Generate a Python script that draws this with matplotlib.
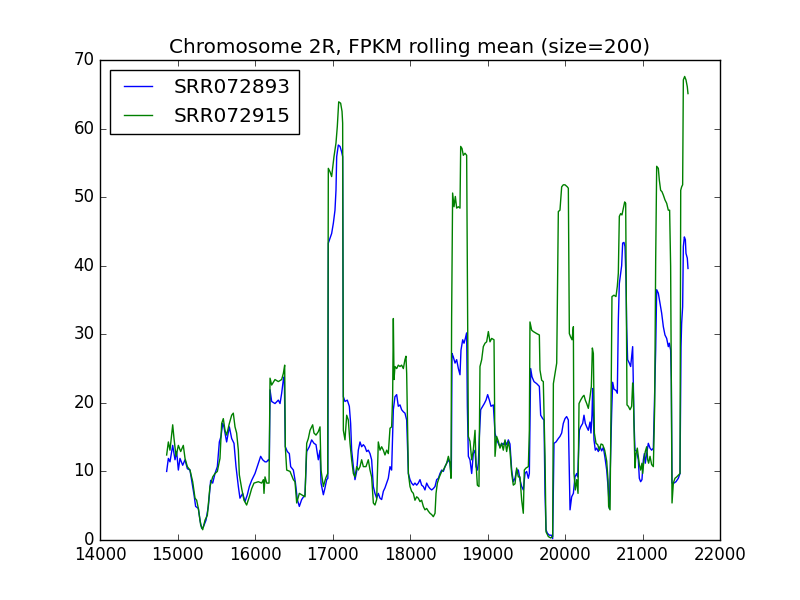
import matplotlib
matplotlib.use("Agg")
import matplotlib.pyplot as plt

# values (gene index vs rolling mean FPKM)
blue_x = [14860, 14882, 14903, 14938, 14968, 14989, 15011, 15032, 15067, 15097,
          15127, 15161, 15183, 15213, 15234, 15269, 15290, 15312, 15333, 15368,
          15398, 15428, 15454, 15484, 15514, 15540, 15561, 15583, 15600, 15613,
          15634, 15669, 15699, 15729, 15755, 15785, 15806, 15841, 15871, 15901,
          15927, 15957, 16000, 16043, 16073, 16099, 16129, 16150, 16172, 16185,
          16194, 16215, 16258, 16301, 16323, 16344, 16366, 16378, 16391, 16417,
          16443, 16460, 16495, 16520, 16546, 16572, 16602, 16645, 16667, 16701,
          16731, 16761, 16787, 16817, 16839, 16852, 16882, 16903, 16925, 16940,
          16946, 16968, 16989, 17011, 17032, 17045, 17054, 17075, 17097, 17118,
          17131, 17140, 17161, 17191, 17217, 17234, 17247, 17269, 17290, 17312,
          17333, 17355, 17376, 17398, 17419, 17441, 17462, 17484, 17505, 17527,
          17548, 17570, 17591, 17613, 17634, 17656, 17677, 17699, 17720, 17742,
          17763, 17785, 17806, 17828, 17849, 17871, 17892, 17914, 17935, 17957,
          17979, 18000, 18021, 18043, 18064, 18086, 18107, 18129, 18150, 18172,
          18193, 18215, 18237, 18258, 18280, 18301, 18323, 18344, 18366, 18387,
          18409, 18430, 18452, 18473, 18495, 18516, 18533, 18542, 18559, 18581,
          18602, 18624, 18645, 18658, 18680, 18697, 18714, 18731, 18740, 18753,
          18774, 18796, 18817, 18839, 18852, 18869, 18882, 18895, 18912, 18938,
          18959, 18981, 19002, 19024, 19045, 19075, 19097, 19118, 19140, 19161,
          19183, 19204, 19226, 19247, 19269, 19290, 19312, 19333, 19355, 19376,
          19398, 19419, 19441, 19462, 19484, 19505, 19527, 19540, 19557, 19574,
          19600, 19635, 19669, 19686, 19712, 19729, 19742, 19755, 19772, 19798,
          19824, 19841, 19858, 19884, 19914, 19935, 19957, 19978, 20000, 20021,
          20043, 20056, 20065, 20086, 20108, 20129, 20151, 20164, 20172, 20185,
          20202, 20228, 20245, 20262, 20280, 20301, 20323, 20335, 20348, 20357,
          20374, 20391, 20409, 20430, 20452, 20473, 20495, 20516, 20538, 20559,
          20572, 20589, 20602, 20615, 20632, 20658, 20675, 20688, 20701, 20718,
          20731, 20744, 20761, 20774, 20787, 20796, 20808, 20830, 20847, 20864,
          20873, 20882, 20890, 20903, 20925, 20946, 20959, 20976, 20993, 21011,
          21024, 21036, 21054, 21075, 21097, 21118, 21140, 21153, 21170, 21183,
          21204, 21226, 21247, 21269, 21290, 21312, 21333, 21346, 21363, 21372,
          21381, 21406, 21432, 21462, 21484, 21497, 21505, 21518, 21527, 21540,
          21553, 21561, 21578, 21587]
blue_y = [10.0, 11.9, 11.4, 13.8, 11.7, 12.9, 10.2, 11.9, 10.9, 11.7,
          10.4, 10.2, 8.7, 6.6, 4.9, 4.6, 2.9, 1.7, 1.9, 2.9,
          4.9, 8.7, 8.3, 9.7, 10.7, 14.3, 15.1, 17.0, 16.5, 15.6,
          14.3, 16.5, 14.8, 14.1, 10.7, 7.8, 6.1, 6.8, 5.6, 6.6,
          7.8, 8.7, 9.7, 11.2, 12.2, 11.7, 11.4, 11.4, 11.7, 11.5,
          21.9, 20.2, 19.9, 20.4, 19.9, 21.4, 23.4, 23.8, 13.6, 12.9,
          12.6, 10.7, 10.2, 8.5, 5.9, 4.9, 5.9, 6.6, 12.9, 13.6,
          14.6, 14.1, 13.9, 11.7, 13.1, 8.3, 6.6, 7.6, 8.8, 9.0,
          43.3, 44.0, 44.7, 46.2, 48.1, 51.0, 55.9, 57.6, 57.4, 56.6,
          55.9, 20.9, 20.2, 20.4, 19.5, 17.0, 13.1, 10.7, 8.8, 10.0,
          13.1, 14.3, 13.6, 13.9, 13.6, 12.9, 13.1, 12.6, 11.7, 7.8,
          6.8, 6.1, 6.8, 6.1, 5.9, 7.1, 7.6, 8.3, 9.0, 10.7,
          10.2, 19.0, 20.9, 21.2, 19.5, 19.7, 19.0, 18.7, 18.5, 17.5,
          9.7, 8.8, 8.3, 8.0, 8.3, 8.0, 8.3, 8.8, 8.0, 7.8,
          7.3, 8.3, 7.8, 7.5, 7.3, 7.5, 7.8, 8.8, 9.0, 9.7,
          10.2, 10.0, 10.7, 11.2, 11.7, 11.2, 9.2, 27.2, 26.7, 25.8,
          26.3, 25.0, 24.1, 27.7, 29.2, 28.7, 29.4, 30.2, 19.5, 12.2,
          11.7, 9.7, 12.6, 13.1, 10.7, 10.2, 11.2, 15.1, 19.0, 19.5,
          19.9, 20.4, 21.2, 20.4, 19.5, 19.7, 15.6, 14.6, 14.1, 13.6,
          14.1, 13.9, 14.4, 13.9, 14.6, 14.0, 10.2, 8.5, 9.0, 10.2,
          10.2, 8.8, 7.8, 7.3, 9.7, 10.0, 9.0, 9.7, 25.0, 23.8,
          23.1, 22.8, 22.4, 18.2, 17.7, 17.5, 6.8, 1.5, 1.0, 0.7,
          0.7, 0.2, 14.1, 14.3, 14.8, 15.1, 15.6, 17.0, 17.7, 18.0,
          17.5, 9.7, 4.4, 6.3, 6.8, 9.2, 9.7, 9.2, 11.7, 16.0,
          16.5, 17.0, 18.2, 17.0, 16.5, 16.0, 17.2, 15.6, 18.2, 22.1,
          14.6, 13.1, 13.4, 12.9, 13.6, 13.0, 13.5, 12.0, 10.2, 7.2,
          4.6, 12.2, 18.5, 23.0, 22.0, 21.8, 21.4, 32.0, 37.4, 38.9,
          40.0, 43.3, 43.4, 42.8, 38.0, 31.0, 26.3, 25.8, 25.3, 27.2,
          28.2, 22.9, 17.5, 13.1, 12.9, 11.7, 9.0, 8.5, 8.8, 11.7,
          12.6, 11.2, 12.6, 14.1, 13.4, 13.1, 13.4, 19.5, 27.7, 36.5,
          36.0, 34.5, 33.1, 31.1, 29.9, 29.4, 28.2, 28.7, 27.7, 23.3,
          8.3, 8.3, 8.5, 9.0, 9.7, 28.2, 31.6, 34.0, 42.8, 44.2,
          43.8, 41.8, 41.1, 39.6]

green_x = [14860, 14882, 14903, 14938, 14955, 14981, 15011, 15041, 15075, 15097,
           15127, 15161, 15196, 15226, 15247, 15269, 15299, 15325, 15355, 15385,
           15419, 15454, 15484, 15514, 15548, 15570, 15591, 15613, 15634, 15669,
           15699, 15720, 15742, 15763, 15785, 15798, 15828, 15858, 15892, 15927,
           15957, 15987, 16043, 16086, 16108, 16116, 16129, 16151, 16181, 16194,
           16215, 16258, 16301, 16344, 16366, 16383, 16391, 16409, 16452, 16495,
           16516, 16538, 16572, 16602, 16645, 16667, 16688, 16710, 16744, 16761,
           16787, 16817, 16839, 16852, 16882, 16912, 16938, 16946, 16968, 16989,
           17002, 17019, 17045, 17062, 17080, 17105, 17123, 17131, 17140, 17161,
           17183, 17204, 17226, 17247, 17269, 17290, 17312, 17333, 17355, 17376,
           17398, 17432, 17462, 17484, 17505, 17527, 17548, 17570, 17591, 17613,
           17634, 17656, 17677, 17699, 17720, 17742, 17763, 17776, 17785, 17794,
           17806, 17828, 17849, 17871, 17892, 17914, 17935, 17948, 17957, 17979,
           18000, 18021, 18043, 18064, 18086, 18107, 18129, 18150, 18172, 18193,
           18215, 18237, 18258, 18280, 18301, 18323, 18336, 18353, 18379, 18409,
           18430, 18452, 18473, 18495, 18516, 18529, 18537, 18550, 18568, 18585,
           18602, 18624, 18645, 18654, 18671, 18688, 18710, 18731, 18744, 18753,
           18774, 18796, 18817, 18839, 18852, 18869, 18890, 18903, 18925, 18946,
           18968, 18989, 19011, 19032, 19054, 19084, 19097, 19118, 19140, 19161,
           19183, 19204, 19226, 19247, 19269, 19290, 19312, 19333, 19355, 19376,
           19398, 19419, 19441, 19462, 19475, 19497, 19527, 19540, 19548, 19570,
           19591, 19635, 19669, 19677, 19699, 19720, 19742, 19755, 19785, 19815,
           19841, 19850, 19871, 19893, 19914, 19935, 19957, 19978, 20000, 20030,
           20043, 20056, 20073, 20091, 20108, 20116, 20133, 20151, 20168, 20181,
           20202, 20228, 20245, 20262, 20280, 20301, 20323, 20340, 20353, 20366,
           20379, 20400, 20422, 20443, 20465, 20486, 20512, 20538, 20555, 20563,
           20581, 20593, 20606, 20632, 20658, 20675, 20688, 20701, 20718, 20735,
           20753, 20770, 20783, 20791, 20800, 20817, 20839, 20860, 20873, 20882,
           20895, 20903, 20916, 20933, 20946, 20959, 20976, 20993, 21002, 21019,
           21036, 21054, 21067, 21079, 21097, 21118, 21140, 21157, 21170, 21183,
           21204, 21217, 21234, 21251, 21269, 21290, 21312, 21333, 21350, 21363,
           21372, 21381, 21398, 21419, 21441, 21467, 21484, 21493, 21505, 21518,
           21527, 21544, 21561, 21578, 21587]
green_y = [12.4, 14.3, 13.1, 16.8, 14.8, 12.2, 13.8, 12.9, 13.8, 11.9,
           10.7, 10.2, 8.5, 6.1, 5.8, 4.6, 2.2, 1.5, 2.9, 3.6,
           7.8, 9.2, 9.7, 10.0, 11.9, 17.0, 17.7, 16.0, 15.3, 17.0,
           18.2, 18.5, 16.5, 15.6, 13.1, 9.5, 7.5, 5.8, 5.1, 6.3,
           7.5, 8.3, 8.5, 8.3, 8.8, 6.8, 9.2, 8.3, 8.3, 23.6,
           22.6, 23.4, 23.1, 23.4, 24.3, 25.5, 13.6, 10.2, 10.0, 8.8,
           8.5, 5.4, 6.8, 6.6, 6.3, 14.1, 14.8, 16.0, 16.8, 15.6,
           15.3, 15.8, 16.5, 10.2, 7.8, 9.0, 9.7, 54.2, 53.7, 53.0,
           54.2, 55.9, 57.9, 60.3, 63.9, 63.7, 62.5, 60.8, 16.0, 14.6,
           18.2, 17.5, 14.1, 11.7, 9.7, 9.2, 10.7, 10.2, 10.7, 11.7,
           10.7, 10.7, 11.7, 10.2, 9.2, 5.4, 5.1, 5.9, 14.3, 13.1,
           13.6, 13.1, 12.4, 13.1, 12.6, 16.3, 16.5, 20.9, 32.3, 23.4,
           25.3, 25.0, 25.5, 25.3, 25.5, 25.0, 26.3, 26.8, 24.3, 9.7,
           7.8, 7.1, 6.8, 5.8, 6.3, 6.1, 5.6, 5.8, 4.9, 4.4,
           4.6, 4.2, 3.9, 3.7, 3.4, 3.9, 6.8, 8.3, 9.2, 10.0,
           10.2, 10.7, 11.2, 12.2, 11.2, 9.0, 32.3, 50.6, 48.6, 50.1,
           48.4, 48.6, 48.4, 57.4, 57.1, 56.1, 56.4, 56.1, 32.1, 15.1,
           14.4, 11.7, 13.1, 16.0, 11.2, 8.0, 7.8, 25.3, 26.3, 28.2,
           28.7, 28.9, 30.4, 28.9, 29.4, 29.2, 12.2, 15.1, 14.4, 13.4,
           14.1, 13.1, 14.6, 12.9, 14.4, 13.0, 9.7, 8.0, 8.2, 10.5,
           9.2, 9.2, 5.8, 3.9, 10.2, 10.5, 10.7, 16.0, 31.8, 30.6,
           30.4, 30.1, 29.9, 24.8, 23.3, 23.1, 12.2, 1.2, 0.5, 0.3,
           0.5, 22.8, 24.3, 25.8, 47.9, 48.1, 51.5, 51.8, 51.8, 51.5,
           51.3, 30.1, 29.6, 29.2, 31.1, 9.7, 7.3, 8.8, 6.8, 19.9,
           20.4, 20.9, 21.1, 20.4, 19.9, 19.2, 20.9, 22.4, 28.0, 27.2,
           15.6, 14.1, 13.9, 13.1, 14.0, 13.9, 13.1, 11.5, 8.8, 4.9,
           4.4, 18.0, 35.5, 35.7, 35.5, 37.0, 38.9, 47.2, 47.6, 47.4,
           48.4, 49.3, 49.1, 36.0, 19.7, 19.5, 19.0, 19.5, 22.9, 21.4,
           14.1, 10.5, 12.6, 13.4, 12.2, 11.0, 10.2, 11.2, 9.7, 11.7,
           12.9, 13.6, 11.7, 11.2, 12.2, 11.0, 10.7, 19.5, 40.8, 54.5,
           54.2, 52.5, 51.0, 50.8, 50.3, 49.6, 49.1, 48.1, 48.1, 39.9,
           21.4, 5.4, 8.3, 9.0, 9.2, 9.5, 9.7, 51.0, 51.5, 51.8,
           67.1, 67.6, 67.1, 66.1, 65.1]

plt.style.use("classic")
fig, ax = plt.subplots(figsize=(8, 6), dpi=100)

ax.plot(blue_x, blue_y, color="b", label="SRR072893")
ax.plot(green_x, green_y, color="g", label="SRR072915")

ax.set_xlim(14000, 22000)
ax.set_ylim(0, 70)
ax.set_title("Chromosome 2R, FPKM rolling mean (size=200)")
ax.legend(loc="upper left")

fig.savefig("out.png", dpi=100)
